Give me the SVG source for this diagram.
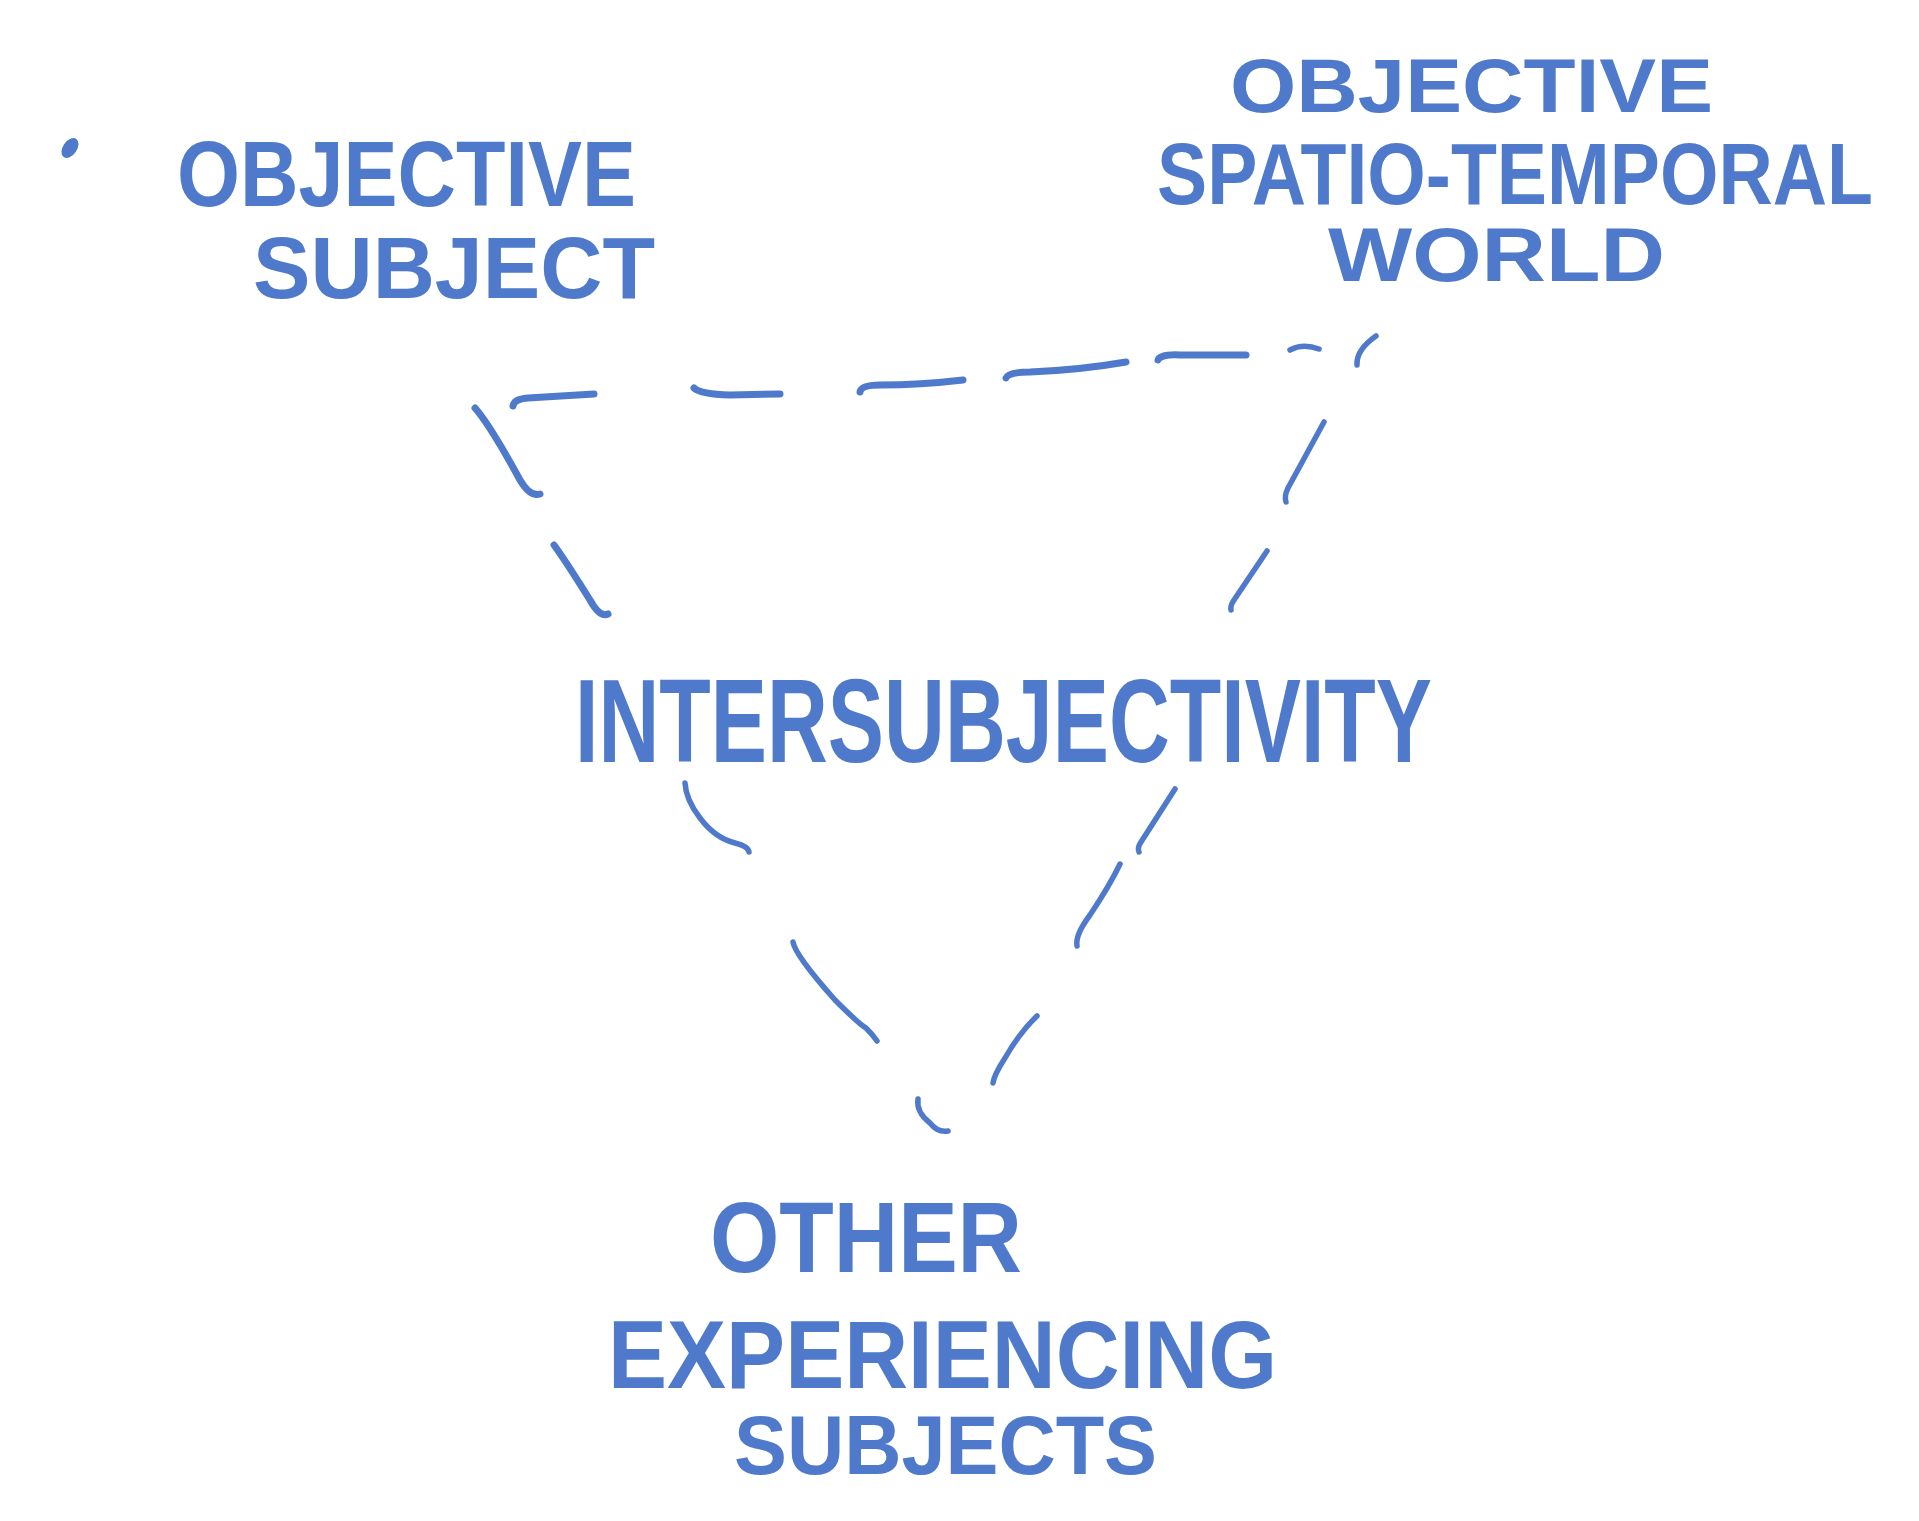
<svg xmlns="http://www.w3.org/2000/svg" width="1919" height="1521" viewBox="0 0 1919 1521">
<style>
.t{font-family:"Liberation Sans","DejaVu Sans",sans-serif;font-weight:bold;fill:#4f7acb}
.d{fill:none;stroke:#4f7acb;stroke-width:7;stroke-linecap:round;stroke-linejoin:round}
.d2{fill:none;stroke:#4f7acb;stroke-width:5.5;stroke-linecap:round;stroke-linejoin:round}
</style>
<rect width="1919" height="1521" fill="#ffffff"/>
<g id="connectors">
<path class="d" d="M513,406 Q514,399 528,398 L594,394"/>
<path class="d" d="M694,388 Q700,394 730,395 L780,394"/>
<path class="d" d="M860,392 Q861,385 880,385 Q920,385 963,380"/>
<path class="d" d="M1006,378 Q1008,372 1030,372 Q1080,370 1126,362"/>
<path class="d" d="M1158,360 Q1160,354 1180,355 L1246,355"/>
<path class="d2" d="M1290,350 Q1303,343 1319,349"/>
<path class="d2" d="M1357,365 Q1356,350 1376,336"/>
<path class="d" d="M475,408 Q490,425 520,480 Q530,497 540,494"/>
<path class="d" d="M554,545 Q565,560 590,600 Q600,618 608,614"/>
<path class="d2" d="M1324,422 L1288,488 Q1284,496 1286,502"/>
<path class="d2" d="M1267,551 L1234,600 Q1230,606 1231,610"/>
<path class="d2" d="M685,783 Q686,800 700,818 Q715,838 735,843 Q748,846 749,852"/>
<path class="d2" d="M793,942 Q795,955 835,1000 Q860,1025 866,1028 Q873,1035 877,1041"/>
<path class="d2" d="M918,1099 Q916,1112 930,1123 Q938,1133 948,1131"/>
<path class="d2" d="M1175,789 L1141,842 Q1137,848 1139,852"/>
<path class="d2" d="M1120,864 Q1110,885 1090,915 Q1075,935 1077,946"/>
<path class="d2" d="M1037,1016 Q1020,1032 1005,1058 Q994,1075 993,1083"/>
</g>
<g id="dot"><ellipse cx="70" cy="148" rx="7" ry="11" transform="rotate(35 70 148)" fill="#4f7acb"/></g>
<g id="objective-subject">
<text class="t" x="177" y="206" font-size="92" textLength="459" lengthAdjust="spacingAndGlyphs">OBJECTIVE</text>
<text class="t" x="253" y="298" font-size="88" textLength="402" lengthAdjust="spacingAndGlyphs">SUBJECT</text>
</g>
<g id="objective-world">
<text class="t" x="1230" y="112" font-size="76" textLength="483" lengthAdjust="spacingAndGlyphs">OBJECTIVE</text>
<text class="t" x="1157" y="204" font-size="88" textLength="716" lengthAdjust="spacingAndGlyphs">SPATIO-TEMPORAL</text>
<text class="t" x="1328" y="281" font-size="76" textLength="337" lengthAdjust="spacingAndGlyphs">WORLD</text>
</g>
<g id="intersubjectivity">
<text class="t" x="575" y="762" font-size="118" textLength="857" lengthAdjust="spacingAndGlyphs">INTERSUBJECTIVITY</text>
</g>
<g id="other-subjects">
<text class="t" x="710" y="1272" font-size="100" textLength="312" lengthAdjust="spacingAndGlyphs">OTHER</text>
<text class="t" x="608" y="1388" font-size="96" textLength="669" lengthAdjust="spacingAndGlyphs">EXPERIENCING</text>
<text class="t" x="734" y="1474" font-size="84" textLength="423" lengthAdjust="spacingAndGlyphs">SUBJECTS</text>
</g>
</svg>
